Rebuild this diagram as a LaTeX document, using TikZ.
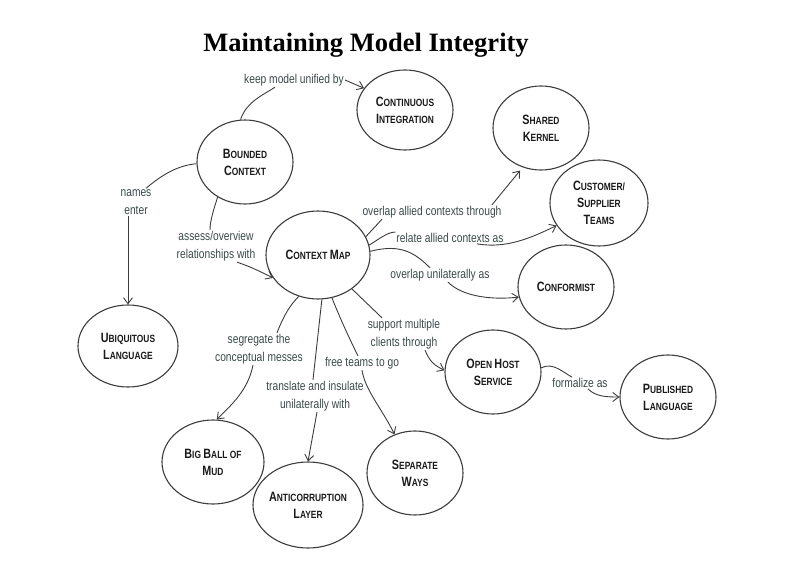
\documentclass[tikz,border=0pt]{standalone}
\usepackage{fontspec}
\setmainfont{Liberation Serif}
\setsansfont[FakeStretch=0.8]{Liberation Sans}
\usepackage{xcolor}
\usetikzlibrary{shapes.geometric, arrows.meta}

\definecolor{inkline}{HTML}{3C3C3C}
\definecolor{linktext}{HTML}{3A4848}

% small caps by hand: big first letter, smaller capitals after it
\newcommand{\kc}[2]{{\fontsize{13.5}{17}\selectfont #1}{\fontsize{10.5}{17}\selectfont #2}}

\tikzset{
  concept/.style={ellipse, draw=inkline, line width=1.1pt, minimum width=96pt, minimum height=84pt,
    inner sep=0pt, align=center, text=black!90, font=\sffamily\bfseries\fontsize{10.5}{17}\selectfont},
  link/.style={align=center, text=linktext, inner sep=1pt, font=\sffamily\fontsize{12.8}{18}\selectfont},
  arc/.style={draw=inkline, line width=0.9pt},
  tip/.style={arc, -{Straight Barb[length=6pt, width=9pt]}}
}

\begin{document}
\begin{tikzpicture}[x=1pt, y=-1pt]
    \useasboundingbox (0,0) rectangle (801,567);

    % Define nodes
    \node[font=\bfseries\fontsize{26.5}{30}\selectfont] (title) at (366,45) {Maintaining Model Integrity};

    \node[concept] (bc) at (245,162) {\kc{B}{OUNDED}\\\kc{C}{ONTEXT}};
    \node[concept, minimum height=80pt] (ci) at (405,110) {\kc{C}{ONTINUOUS}\\\kc{I}{NTEGRATION}};
    \node[concept] (sk) at (541,128) {\kc{S}{HARED}\\\kc{K}{ERNEL}};
    \node[concept, minimum width=98pt, minimum height=86pt] (cst) at (599,203) {\kc{C}{USTOMER}/\\\kc{S}{UPPLIER}\\\kc{T}{EAMS}};
    \node[concept] (cf) at (566,287) {\kc{C}{ONFORMIST}};
    \node[concept, minimum width=104pt, minimum height=88pt] (cm) at (318,255) {\kc{C}{ONTEXT} \kc{M}{AP}};
    \node[concept, minimum width=100pt, minimum height=82pt] (ul) at (128,346) {\kc{U}{BIQUITOUS}\\\kc{L}{ANGUAGE}};
    \node[concept, minimum width=102pt] (bbm) at (213,462) {\kc{B}{IG} \kc{B}{ALL OF}\\\kc{M}{UD}};
    \node[concept, minimum width=104pt, minimum height=86pt] (acl) at (308,505) {\kc{A}{NTICORRUPTION}\\\kc{L}{AYER}};
    \node[concept] (sw) at (415,473) {\kc{S}{EPARATE}\\\kc{W}{AYS}};
    \node[concept] (ohs) at (493,372) {\kc{O}{PEN} \kc{H}{OST}\\\kc{S}{ERVICE}};
    \node[concept] (pl) at (668,397) {\kc{P}{UBLISHED}\\\kc{L}{ANGUAGE}};

    % linking phrases
    \node[link] (keep) at (294,80) {keep model unified by};
    \node[link] (names) at (136,202) {names\\enter};
    \node[link] (assess) at (216,246) {assess/overview\\relationships with};
    \node[link] (overA) at (432,212) {overlap allied contexts through};
    \node[link] (relate) at (450,238) {relate allied contexts as};
    \node[link] (overU) at (440,275) {overlap unilaterally as};
    \node[link] (support) at (404,334) {support multiple\\clients through};
    \node[link] (formal) at (580,383) {formalize as};
    \node[link] (free) at (362,363) {free teams to go};
    \node[link] (transl) at (315,396) {translate and insulate\\unilaterally with};
    \node[link] (segr) at (259,349) {segregate the\\conceptual messes};

    % Draw edges
    \draw[arc] (bc.96) .. controls +(6,-18) and +(-12,8) .. ([xshift=-19pt]keep.south);
    \draw[tip] (keep.east) -- (ci.152);

    \draw[arc] (bc.182) .. controls +(-22,2) and +(12,-10) .. ([xshift=10pt]names.north);
    \draw[tip] ([xshift=-8pt]names.south) -- (ul.north);

    \draw[arc] (bc.232) .. controls +(-3,10) and +(0,-10) .. ([xshift=-6pt]assess.north);
    \draw[tip] ([xshift=21pt]assess.south) .. controls +(15,5) and +(-10,-5) .. (cm.207);

    \draw[arc] (cm.21) -- ([xshift=-50pt]overA.south);
    \draw[tip, shorten >=4pt] ([xshift=60pt]overA.north) -- (sk.245);

    \draw[arc] (cm.11) .. controls +(10,-6) and +(-8,0) .. (relate.north west);
    \draw[tip] ([xshift=27pt]relate.south) .. controls +(30,5) and +(-25,12) .. (cst.208);

    \draw[arc] (cm.4) .. controls +(30,-8) and +(-15,-15) .. ([xshift=-10pt]overU.north);
    \draw[tip] ([xshift=8pt]overU.south) .. controls +(15,15) and +(-25,3) .. (cf.192);

    \draw[arc] (cm.-45) -- ([xshift=-22pt]support.north);
    \draw[tip] ([xshift=21pt]support.south) .. controls +(5,12) and +(-10,-5) .. (ohs.178);

    \draw[arc] (ohs.5) .. controls +(12,-6) and +(-8,-4) .. ([xshift=-8pt]formal.north);
    \draw[tip] ([xshift=8pt]formal.south) .. controls +(8,8) and +(-12,0) .. (pl.west);

    \draw[arc] (cm.-72) .. controls +(10,25) and +(-6,-12) .. ([xshift=-4pt]free.north);
    \draw[tip] (free.south) .. controls +(3,20) and +(-12,-25) .. (sw.118);

    \draw[arc] (cm.-85) -- ([xshift=-2pt]transl.north);
    \draw[tip] ([xshift=2pt]transl.south) -- (acl.north);

    \draw[arc] (cm.245) .. controls +(-12,12) and +(4,-10) .. ([xshift=18pt]segr.north);
    \draw[tip] ([xshift=-6pt]segr.south) .. controls +(-5,25) and +(15,-15) .. (bbm.85);
\end{tikzpicture}
\end{document}
